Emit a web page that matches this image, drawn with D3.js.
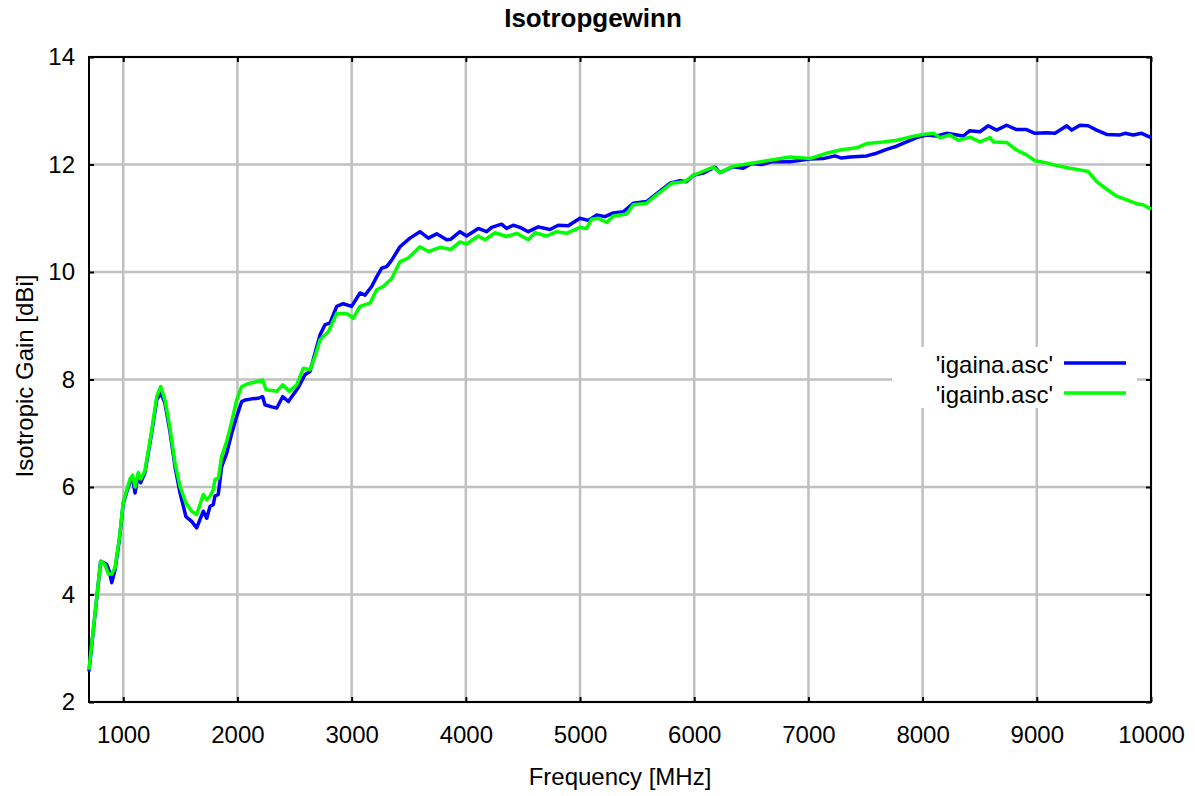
<!DOCTYPE html>
<html>
<head>
<meta charset="utf-8">
<script src="https://cdn.jsdelivr.net/npm/d3@7"></script>
<style>
  body { margin: 0; background: #fff; }
  text { font-family: "Liberation Sans", Arial, sans-serif; fill: #000; }
</style>
</head>
<body>
<div id="chart"></div>
<script>
const title = "Isotropgewinn";
const xLabel = "Frequency [MHz]";
const yLabel = "Isotropic Gain [dBi]";
const seriesNames = ["'igaina.asc'", "'igainb.asc'"];
const xTicks = [1000, 2000, 3000, 4000, 5000, 6000, 7000, 8000, 9000, 10000];
const yTicks = [2, 4, 6, 8, 10, 12, 14];

const freqA = [700, 802, 855, 878, 899, 928, 966, 1000, 1059, 1082, 1103, 1132, 1153, 1190, 1249, 1293, 1330, 1365, 1409, 1453,
  1497, 1549, 1599, 1643, 1701, 1731, 1760, 1788, 1803, 1832, 1862, 1906, 1950, 1993, 2037, 2070, 2125, 2180, 2221, 2241,
  2300, 2344, 2396, 2446, 2530, 2591, 2635, 2679, 2723, 2767, 2810, 2869, 2927, 3000, 3073, 3117, 3175, 3219, 3263, 3307,
  3351, 3423, 3511, 3598, 3671, 3745, 3832, 3869, 3949, 4007, 4109, 4182, 4226, 4313, 4357, 4415, 4474, 4547, 4634, 4737,
  4809, 4897, 4999, 5072, 5146, 5218, 5291, 5379, 5466, 5583, 5685, 5787, 5875, 5933, 5992, 6079, 6182, 6225, 6342, 6429,
  6503, 6590, 6678, 6838, 7013, 7130, 7232, 7290, 7363, 7510, 7597, 7685, 7772, 7860, 7948, 8035, 8123, 8210, 8356, 8414,
  8502, 8575, 8648, 8735, 8823, 8910, 8984, 9086, 9159, 9262, 9306, 9378, 9450, 9524, 9612, 9728, 9772, 9845, 9918, 10000];
const gainA = [2.57, 4.62, 4.56, 4.43, 4.22, 4.46, 5.02, 5.70, 6.10, 6.15, 5.89, 6.23, 6.08, 6.27, 7.01, 7.62, 7.75, 7.56, 7.03, 6.38,
  5.89, 5.45, 5.36, 5.24, 5.55, 5.42, 5.64, 5.67, 5.83, 5.86, 6.38, 6.63, 7.00, 7.31, 7.59, 7.62, 7.64, 7.65, 7.68, 7.53,
  7.49, 7.47, 7.68, 7.59, 7.84, 8.09, 8.15, 8.49, 8.83, 9.02, 9.05, 9.36, 9.41, 9.36, 9.61, 9.57, 9.73, 9.91, 10.07, 10.10,
  10.22, 10.47, 10.63, 10.75, 10.63, 10.71, 10.60, 10.61, 10.75, 10.67, 10.81, 10.75, 10.83, 10.89, 10.81, 10.87, 10.83, 10.75, 10.84, 10.79,
  10.87, 10.86, 11.00, 10.96, 11.06, 11.03, 11.10, 11.12, 11.28, 11.31, 11.48, 11.65, 11.70, 11.68, 11.80, 11.84, 11.95, 11.85, 11.96, 11.93,
  12.02, 12.00, 12.05, 12.05, 12.10, 12.11, 12.16, 12.12, 12.14, 12.16, 12.21, 12.28, 12.34, 12.42, 12.50, 12.55, 12.53, 12.58, 12.53, 12.63,
  12.61, 12.72, 12.64, 12.73, 12.65, 12.65, 12.58, 12.59, 12.58, 12.72, 12.64, 12.73, 12.72, 12.64, 12.56, 12.55, 12.58, 12.55, 12.58, 12.50];

const freqB = [700, 802, 840, 870, 899, 928, 966, 1000, 1059, 1082, 1103, 1132, 1153, 1190, 1249, 1293, 1328, 1365, 1409, 1453,
  1497, 1549, 1599, 1643, 1701, 1731, 1760, 1788, 1803, 1832, 1862, 1906, 1950, 1993, 2037, 2090, 2148, 2221, 2250, 2344,
  2396, 2454, 2519, 2577, 2635, 2679, 2723, 2796, 2869, 2956, 3014, 3073, 3161, 3219, 3277, 3351, 3423, 3496, 3598, 3671,
  3774, 3869, 3949, 4007, 4109, 4168, 4255, 4357, 4444, 4547, 4605, 4707, 4794, 4882, 4999, 5057, 5101, 5160, 5233, 5291,
  5408, 5466, 5583, 5685, 5802, 5918, 5992, 6167, 6225, 6342, 6488, 6663, 6838, 7013, 7159, 7276, 7422, 7510, 7655, 7772,
  7889, 8006, 8094, 8152, 8240, 8312, 8414, 8502, 8589, 8620, 8735, 8823, 8910, 8984, 9086, 9174, 9290, 9378, 9450, 9524,
  9612, 9699, 9787, 9874, 9930, 10000];
const gainB = [2.60, 4.62, 4.55, 4.38, 4.38, 4.50, 5.05, 5.72, 6.15, 6.22, 6.00, 6.27, 6.15, 6.30, 7.05, 7.68, 7.87, 7.62, 7.10, 6.45,
  6.01, 5.70, 5.55, 5.49, 5.86, 5.76, 5.83, 5.95, 6.14, 6.16, 6.57, 6.85, 7.22, 7.62, 7.87, 7.92, 7.95, 7.99, 7.81, 7.78,
  7.90, 7.78, 7.90, 8.21, 8.18, 8.43, 8.74, 8.89, 9.23, 9.23, 9.14, 9.36, 9.42, 9.67, 9.73, 9.88, 10.19, 10.26, 10.47, 10.38,
  10.46, 10.42, 10.56, 10.52, 10.67, 10.60, 10.73, 10.66, 10.72, 10.60, 10.73, 10.67, 10.75, 10.72, 10.83, 10.81, 10.98, 11.00, 10.92, 11.04,
  11.08, 11.25, 11.28, 11.46, 11.65, 11.68, 11.80, 11.95, 11.85, 11.97, 12.02, 12.08, 12.14, 12.11, 12.21, 12.27, 12.31, 12.39, 12.42, 12.45,
  12.51, 12.56, 12.58, 12.50, 12.55, 12.45, 12.51, 12.42, 12.50, 12.42, 12.41, 12.27, 12.18, 12.07, 12.03, 11.98, 11.93, 11.90, 11.87, 11.68,
  11.54, 11.41, 11.34, 11.27, 11.25, 11.17];

const w = 1195;
const h = 796;
const pLeft = 89, pRight = 1151, pTop = 57, pBottom = 702;

const x = d3.scaleLinear().domain([700, 10000]).range([pLeft, pRight]);
const y = d3.scaleLinear().domain([2, 14]).range([pBottom, pTop]);

const svg = d3.select("#chart").append("svg").attr("width", w).attr("height", h);

// grid
svg.append("g")
  .selectAll("line")
  .data(xTicks)
  .enter()
  .append("line")
  .attr("x1", d => x(d)).attr("x2", d => x(d))
  .attr("y1", pTop).attr("y2", pBottom)
  .attr("stroke", "#c0c0c0").attr("stroke-width", 2.5);
svg.append("g")
  .selectAll("line")
  .data(yTicks)
  .enter()
  .append("line")
  .attr("x1", pLeft).attr("x2", pRight)
  .attr("y1", d => y(d)).attr("y2", d => y(d))
  .attr("stroke", "#c0c0c0").attr("stroke-width", 2.5);

// legend background blanks out the grid
svg.append("rect")
  .attr("x", 892).attr("y", 347).attr("width", 245).attr("height", 61)
  .attr("fill", "#fff");

// axes with inward ticks on all four sides
const fmt = d3.format("d");
const axB = svg.append("g").attr("transform", `translate(0,${pBottom})`)
  .call(d3.axisBottom(x).tickValues(xTicks).tickFormat(fmt).tickSizeInner(-5).tickSizeOuter(0).tickPadding(24));
const axT = svg.append("g").attr("transform", `translate(0,${pTop})`)
  .call(d3.axisTop(x).tickValues(xTicks).tickFormat("").tickSizeInner(-5).tickSizeOuter(0));
const axL = svg.append("g").attr("transform", `translate(${pLeft},0)`)
  .call(d3.axisLeft(y).tickValues(yTicks).tickFormat(fmt).tickSizeInner(-5).tickSizeOuter(0).tickPadding(14));
const axR = svg.append("g").attr("transform", `translate(${pRight},0)`)
  .call(d3.axisRight(y).tickValues(yTicks).tickFormat("").tickSizeInner(-5).tickSizeOuter(0));

[axB, axT, axL, axR].forEach(a => {
  a.select(".domain").remove();
  a.selectAll(".tick line").attr("stroke", "#000").attr("stroke-width", 2);
  a.selectAll(".tick text").style("font-size", "24px").attr("fill", "#000");
});

// border
svg.append("rect")
  .attr("x", pLeft).attr("y", pTop)
  .attr("width", pRight - pLeft).attr("height", pBottom - pTop)
  .attr("fill", "none").attr("stroke", "#000").attr("stroke-width", 2);

// curves
const line = d3.line().x(d => x(d[0])).y(d => y(d[1]));
const dataA = freqA.map((f, i) => [f, gainA[i]]);
const dataB = freqB.map((f, i) => [f, gainB[i]]);
const colors = ["#0000ff", "#00ff00"];

svg.append("path").datum(dataA).attr("d", line)
  .attr("fill", "none").attr("stroke", colors[0]).attr("stroke-width", 3.5).attr("stroke-linejoin", "round");
svg.append("path").datum(dataB).attr("d", line)
  .attr("fill", "none").attr("stroke", colors[1]).attr("stroke-width", 3.5).attr("stroke-linejoin", "round");

// legend
seriesNames.forEach((name, i) => {
  const ly = 363 + i * 30;
  svg.append("text").attr("x", 1053).attr("y", ly + 10)
    .attr("text-anchor", "end").style("font-size", "24px").text(name);
  svg.append("line").attr("x1", 1064).attr("x2", 1126).attr("y1", ly).attr("y2", ly)
    .attr("stroke", colors[i]).attr("stroke-width", 3.5);
});

// titles
svg.append("text").attr("x", 593).attr("y", 27).attr("text-anchor", "middle")
  .style("font-size", "26px").style("font-weight", "bold").text(title);
svg.append("text").attr("x", 620).attr("y", 785).attr("text-anchor", "middle")
  .style("font-size", "24px").text(xLabel);
svg.append("text").attr("transform", "translate(33,376) rotate(-90)").attr("text-anchor", "middle")
  .style("font-size", "24px").text(yLabel);
</script>
</body>
</html>
